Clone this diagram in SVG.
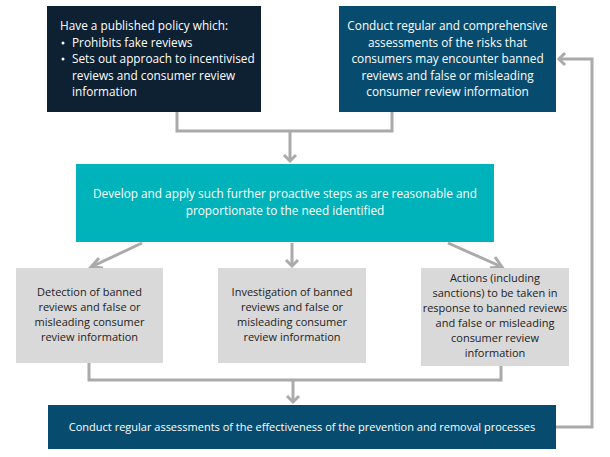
<svg xmlns="http://www.w3.org/2000/svg" width="610" height="457" viewBox="0 0 610 457">
<defs>
<style>
.t{font-family:"Open Sans","Noto Sans","DejaVu Sans",sans-serif;font-size:11px;}
.b{font-size:11.8px;}
.w{fill:#ffffff;}
.d{fill:#222222;}
.c{text-anchor:middle;}
.ln{fill:none;stroke:#aaaaaa;stroke-width:3;}
.ah{fill:none;stroke:#aaaaaa;stroke-width:3;}
</style>
</defs>
<rect width="610" height="457" fill="#ffffff"/>
<g id="connectors">
<polyline class="ln" points="177,112 177,131 392,131 392,112"/>
<line class="ln" x1="290" y1="131" x2="290" y2="161"/>
<polyline class="ah" points="284,155 290,161 296,155"/>
<line class="ln" x1="142" y1="243" x2="91" y2="267"/>
<polyline class="ah" points="99,258 91,267 103,268"/>
<line class="ln" x1="292" y1="243" x2="292" y2="266"/>
<polyline class="ah" points="286,260 292,266 298,260"/>
<line class="ln" x1="448" y1="243" x2="502" y2="267"/>
<polyline class="ah" points="490,268 502,267 495,257"/>
<polyline class="ln" points="89,363 89,380 501,380 501,366"/>
<line class="ln" x1="293" y1="380" x2="293" y2="402"/>
<polyline class="ah" points="287,396 293,402 299,396"/>
<polyline class="ln" points="556,427 592,427 592,59 559,59"/>
<polyline class="ah" points="565,53 559,59 565,65"/>
</g>
<g id="policy">
<rect x="47" y="6" width="214" height="106" fill="#0d2133"/>
<text class="t b w" x="60" y="30">Have a published policy which:</text>
<circle cx="63" cy="43" r="1.5" fill="#ffffff"/>
<text class="t b w" x="72" y="47">Prohibits fake reviews</text>
<circle cx="63" cy="59" r="1.5" fill="#ffffff"/>
<text class="t b w" x="72" y="63">Sets out approach to incentivised</text>
<text class="t b w" x="72" y="80">reviews and consumer review</text>
<text class="t b w" x="72" y="96">information</text>
</g>
<g id="risk">
<rect x="339" y="6" width="217" height="106" fill="#074c6e"/>
<text class="t b w c" x="447.5" y="30">Conduct regular and comprehensive</text>
<text class="t b w c" x="447.5" y="47">assessments of the risks that</text>
<text class="t b w c" x="447.5" y="63">consumers may encounter banned</text>
<text class="t b w c" x="447.5" y="80">reviews and false or misleading</text>
<text class="t b w c" x="447.5" y="96">consumer review information</text>
</g>
<g id="steps">
<rect x="76" y="164" width="418" height="78" fill="#00b2b9"/>
<text class="t b w c" x="285" y="198">Develop and apply such further proactive steps as are reasonable and</text>
<text class="t b w c" x="285" y="215">proportionate to the need identified</text>
</g>
<g id="detection">
<rect x="16" y="268" width="147" height="95" fill="#d9d9d9"/>
<text class="t d c" x="89.5" y="296">Detection of banned</text>
<text class="t d c" x="89.5" y="311">reviews and false or</text>
<text class="t d c" x="89.5" y="326">misleading consumer</text>
<text class="t d c" x="89.5" y="341">review information</text>
</g>
<g id="investigation">
<rect x="218" y="268" width="148" height="95" fill="#d9d9d9"/>
<text class="t d c" x="292" y="296">Investigation of banned</text>
<text class="t d c" x="292" y="311">reviews and false or</text>
<text class="t d c" x="292" y="326">misleading consumer</text>
<text class="t d c" x="292" y="341">review information</text>
</g>
<g id="actions">
<rect x="421" y="268" width="148" height="98" fill="#d9d9d9"/>
<text class="t d c" x="495" y="282">Actions (including</text>
<text class="t d c" x="495" y="297">sanctions) to be taken in</text>
<text class="t d c" x="495" y="312">response to banned reviews</text>
<text class="t d c" x="495" y="327">and false or misleading</text>
<text class="t d c" x="495" y="342">consumer review</text>
<text class="t d c" x="495" y="357">information</text>
</g>
<g id="effectiveness">
<rect x="48" y="405" width="508" height="44" fill="#074c6e"/>
<text class="t w c" x="302" y="431">Conduct regular assessments of the effectiveness of the prevention and removal processes</text>
</g>
</svg>
